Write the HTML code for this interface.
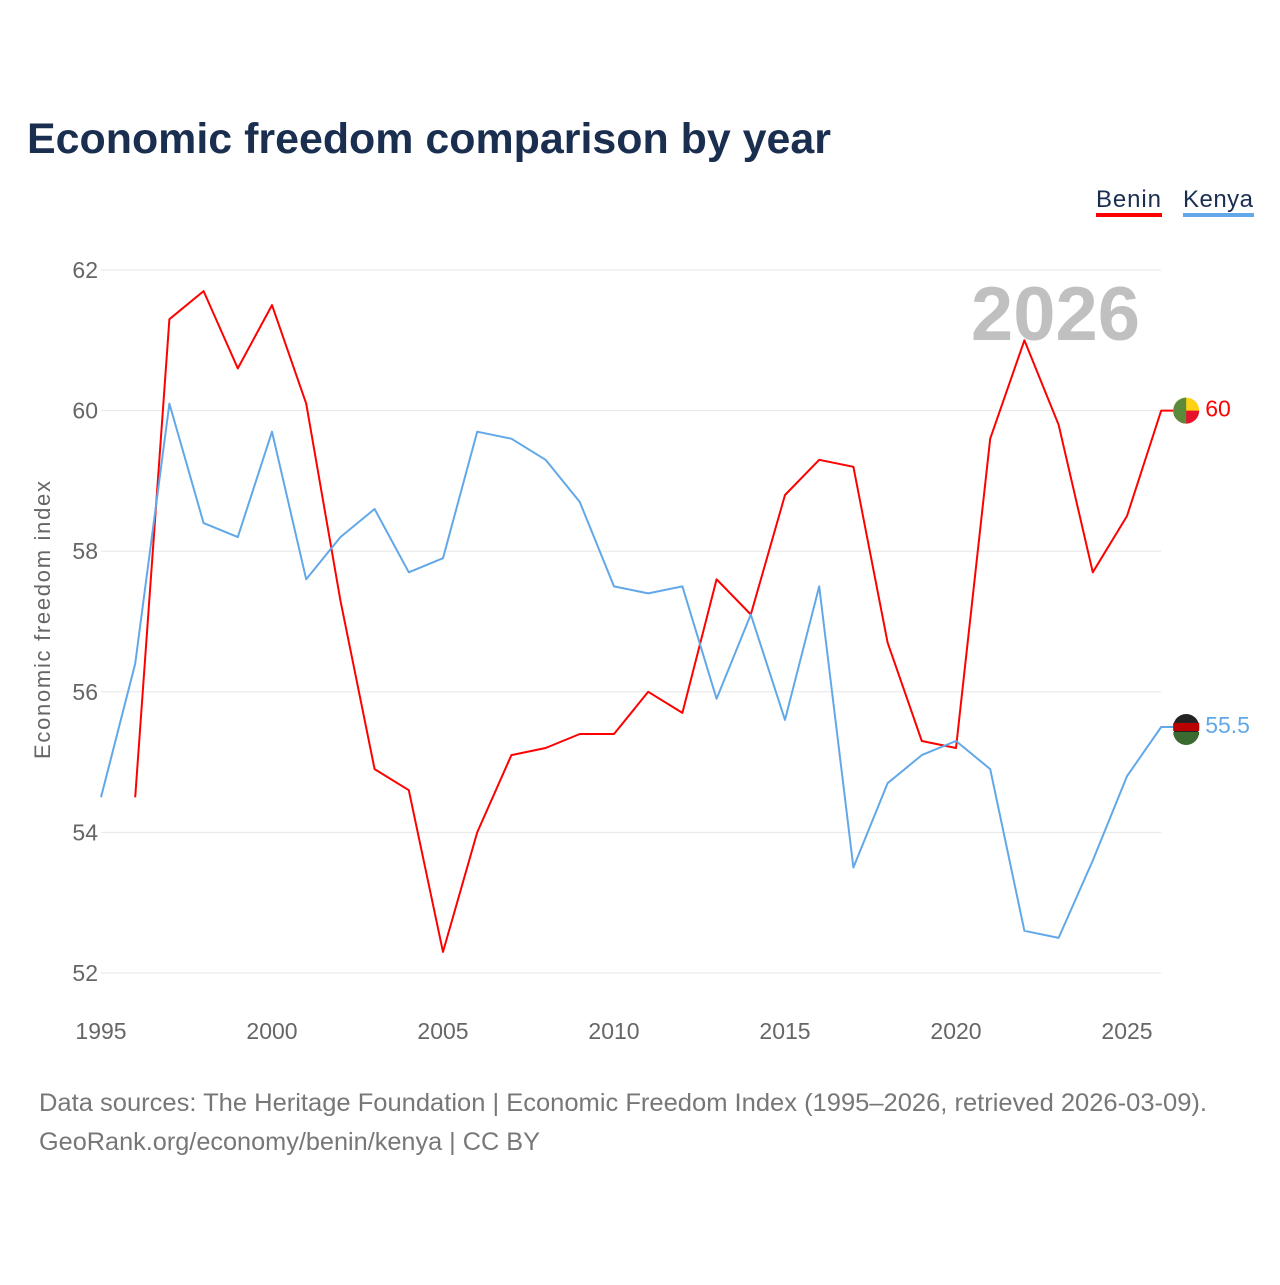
<!DOCTYPE html>
<html><head><meta charset="utf-8"><style>
html,body{margin:0;padding:0;background:#fff;}
body{width:1280px;height:1280px;font-family:"Liberation Sans",sans-serif;}
</style></head><body>
<svg id="chart" width="1280" height="1280" xmlns="http://www.w3.org/2000/svg">
<text x="27" y="153" font-size="43" font-weight="bold" fill="#1a2e50" textLength="804" lengthAdjust="spacingAndGlyphs">Economic freedom comparison by year</text>
<g>
<text x="1096" y="207" font-size="24" fill="#1a2e50" textLength="65">Benin</text>
<rect x="1096" y="213" width="66" height="4" fill="#ff0000"/>
<text x="1183" y="207" font-size="24" fill="#1a2e50" textLength="70">Kenya</text>
<rect x="1183" y="213" width="71" height="4" fill="#62a8e8"/>
</g>
<text x="1140" y="340" font-size="76" font-weight="bold" fill="#c0c0c0" text-anchor="end">2026</text>
<g id="grid"></g>
<g id="lines"></g>
<text transform="translate(50,620) rotate(-90)" font-size="22" fill="#666" text-anchor="middle" textLength="278">Economic freedom index</text>
<text x="39" y="1111" font-size="25" fill="#777" textLength="1168" lengthAdjust="spacingAndGlyphs">Data sources: The Heritage Foundation | Economic Freedom Index (1995–2026, retrieved 2026-03-09).</text>
<text x="39" y="1150" font-size="25" fill="#777" textLength="501" lengthAdjust="spacingAndGlyphs">GeoRank.org/economy/benin/kenya | CC BY</text>
</svg>
<script>
const years=[1995,1996,1997,1998,1999,2000,2001,2002,2003,2004,2005,2006,2007,2008,2009,2010,2011,2012,2013,2014,2015,2016,2017,2018,2019,2020,2021,2022,2023,2024,2025,2026];
const benin=[null,54.5,61.3,61.7,60.6,61.5,60.1,57.3,54.9,54.6,52.3,54.0,55.1,55.2,55.4,55.4,56.0,55.7,57.6,57.1,58.8,59.3,59.2,56.7,55.3,55.2,59.6,61.0,59.8,57.7,58.5,60.0];
const kenya=[54.5,56.4,60.1,58.4,58.2,59.7,57.6,58.2,58.6,57.7,57.9,59.7,59.6,59.3,58.7,57.5,57.4,57.5,55.9,57.1,55.6,57.5,53.5,54.7,55.1,55.3,54.9,52.6,52.5,53.6,54.8,55.5];
const yTicks=[52,54,56,58,60,62];
const xTicks=[1995,2000,2005,2010,2015,2020,2025];
const NS="http://www.w3.org/2000/svg";
const X=y=>101+(y-1995)*(1127-101)/30;
const Y=v=>973-(v-52)*(973-270)/10;
const grid=document.getElementById('grid'),lines=document.getElementById('lines');
function mk(t,a,p){const e=document.createElementNS(NS,t);for(const k in a)e.setAttribute(k,a[k]);p.appendChild(e);return e;}
yTicks.forEach(v=>{
 const l=mk('line',{x1:101,x2:1161,y1:Y(v),y2:Y(v),stroke:'#e6e6e6','stroke-width':1},grid);
 
 
 const t=mk('text',{x:98,y:Y(v)+8,'font-size':23,fill:'#666','text-anchor':'end'},grid);t.textContent=v;
 
 
});
xTicks.forEach(v=>{
 const t=mk('text',{x:X(v),y:1039,'font-size':23,fill:'#666','text-anchor':'middle'},grid);t.textContent=v;
 
 
});
function series(vals,color,name){
 let d='';vals.forEach((v,i)=>{if(v==null)return;d+=(d?'L':'M')+X(years[i]).toFixed(1)+','+Y(v).toFixed(1);});
 const last=vals[vals.length-1],cx=X(years[years.length-1])+25,cy=Y(last);
 d+='L'+(cx-13)+','+cy.toFixed(1);
 const p=mk('path',{d:d,fill:'none',stroke:color,'stroke-width':2,'stroke-linejoin':'round'},lines);
 
 
 const c=mk('circle',{cx:cx,cy:cy,r:13,fill:name==='benin'?'#fcd116':'#222'},lines);
 
 
 if(name==='benin'){mk('path',{d:`M${cx},${cy}L${cx+13},${cy}A13,13 0 0 1 ${cx},${cy+13}A13,13 0 0 1 ${cx-13},${cy}L${cx},${cy}Z`,fill:'#e8112d'},lines);
  mk('path',{d:`M${cx},${cy-13}A13,13 0 0 0 ${cx},${cy+13}Z`,fill:'#5a8a3a'},lines);}
 else{mk('rect',{x:cx-13,y:cy-4,width:26,height:8,fill:'#b00'},lines);mk('path',{d:`M${cx-13},${cy+5}L${cx+13},${cy+5}A13,13 0 0 1 ${cx-13},${cy+5}Z`,fill:'#3a6a30'},lines);}
 const t=mk('text',{x:cx+19,y:cy+6,'font-size':23,fill:color},lines);t.textContent=last;
 
 
}
series(benin,'#ff0000','benin');
series(kenya,'#62a8e8','kenya');
</script>
</body></html>
